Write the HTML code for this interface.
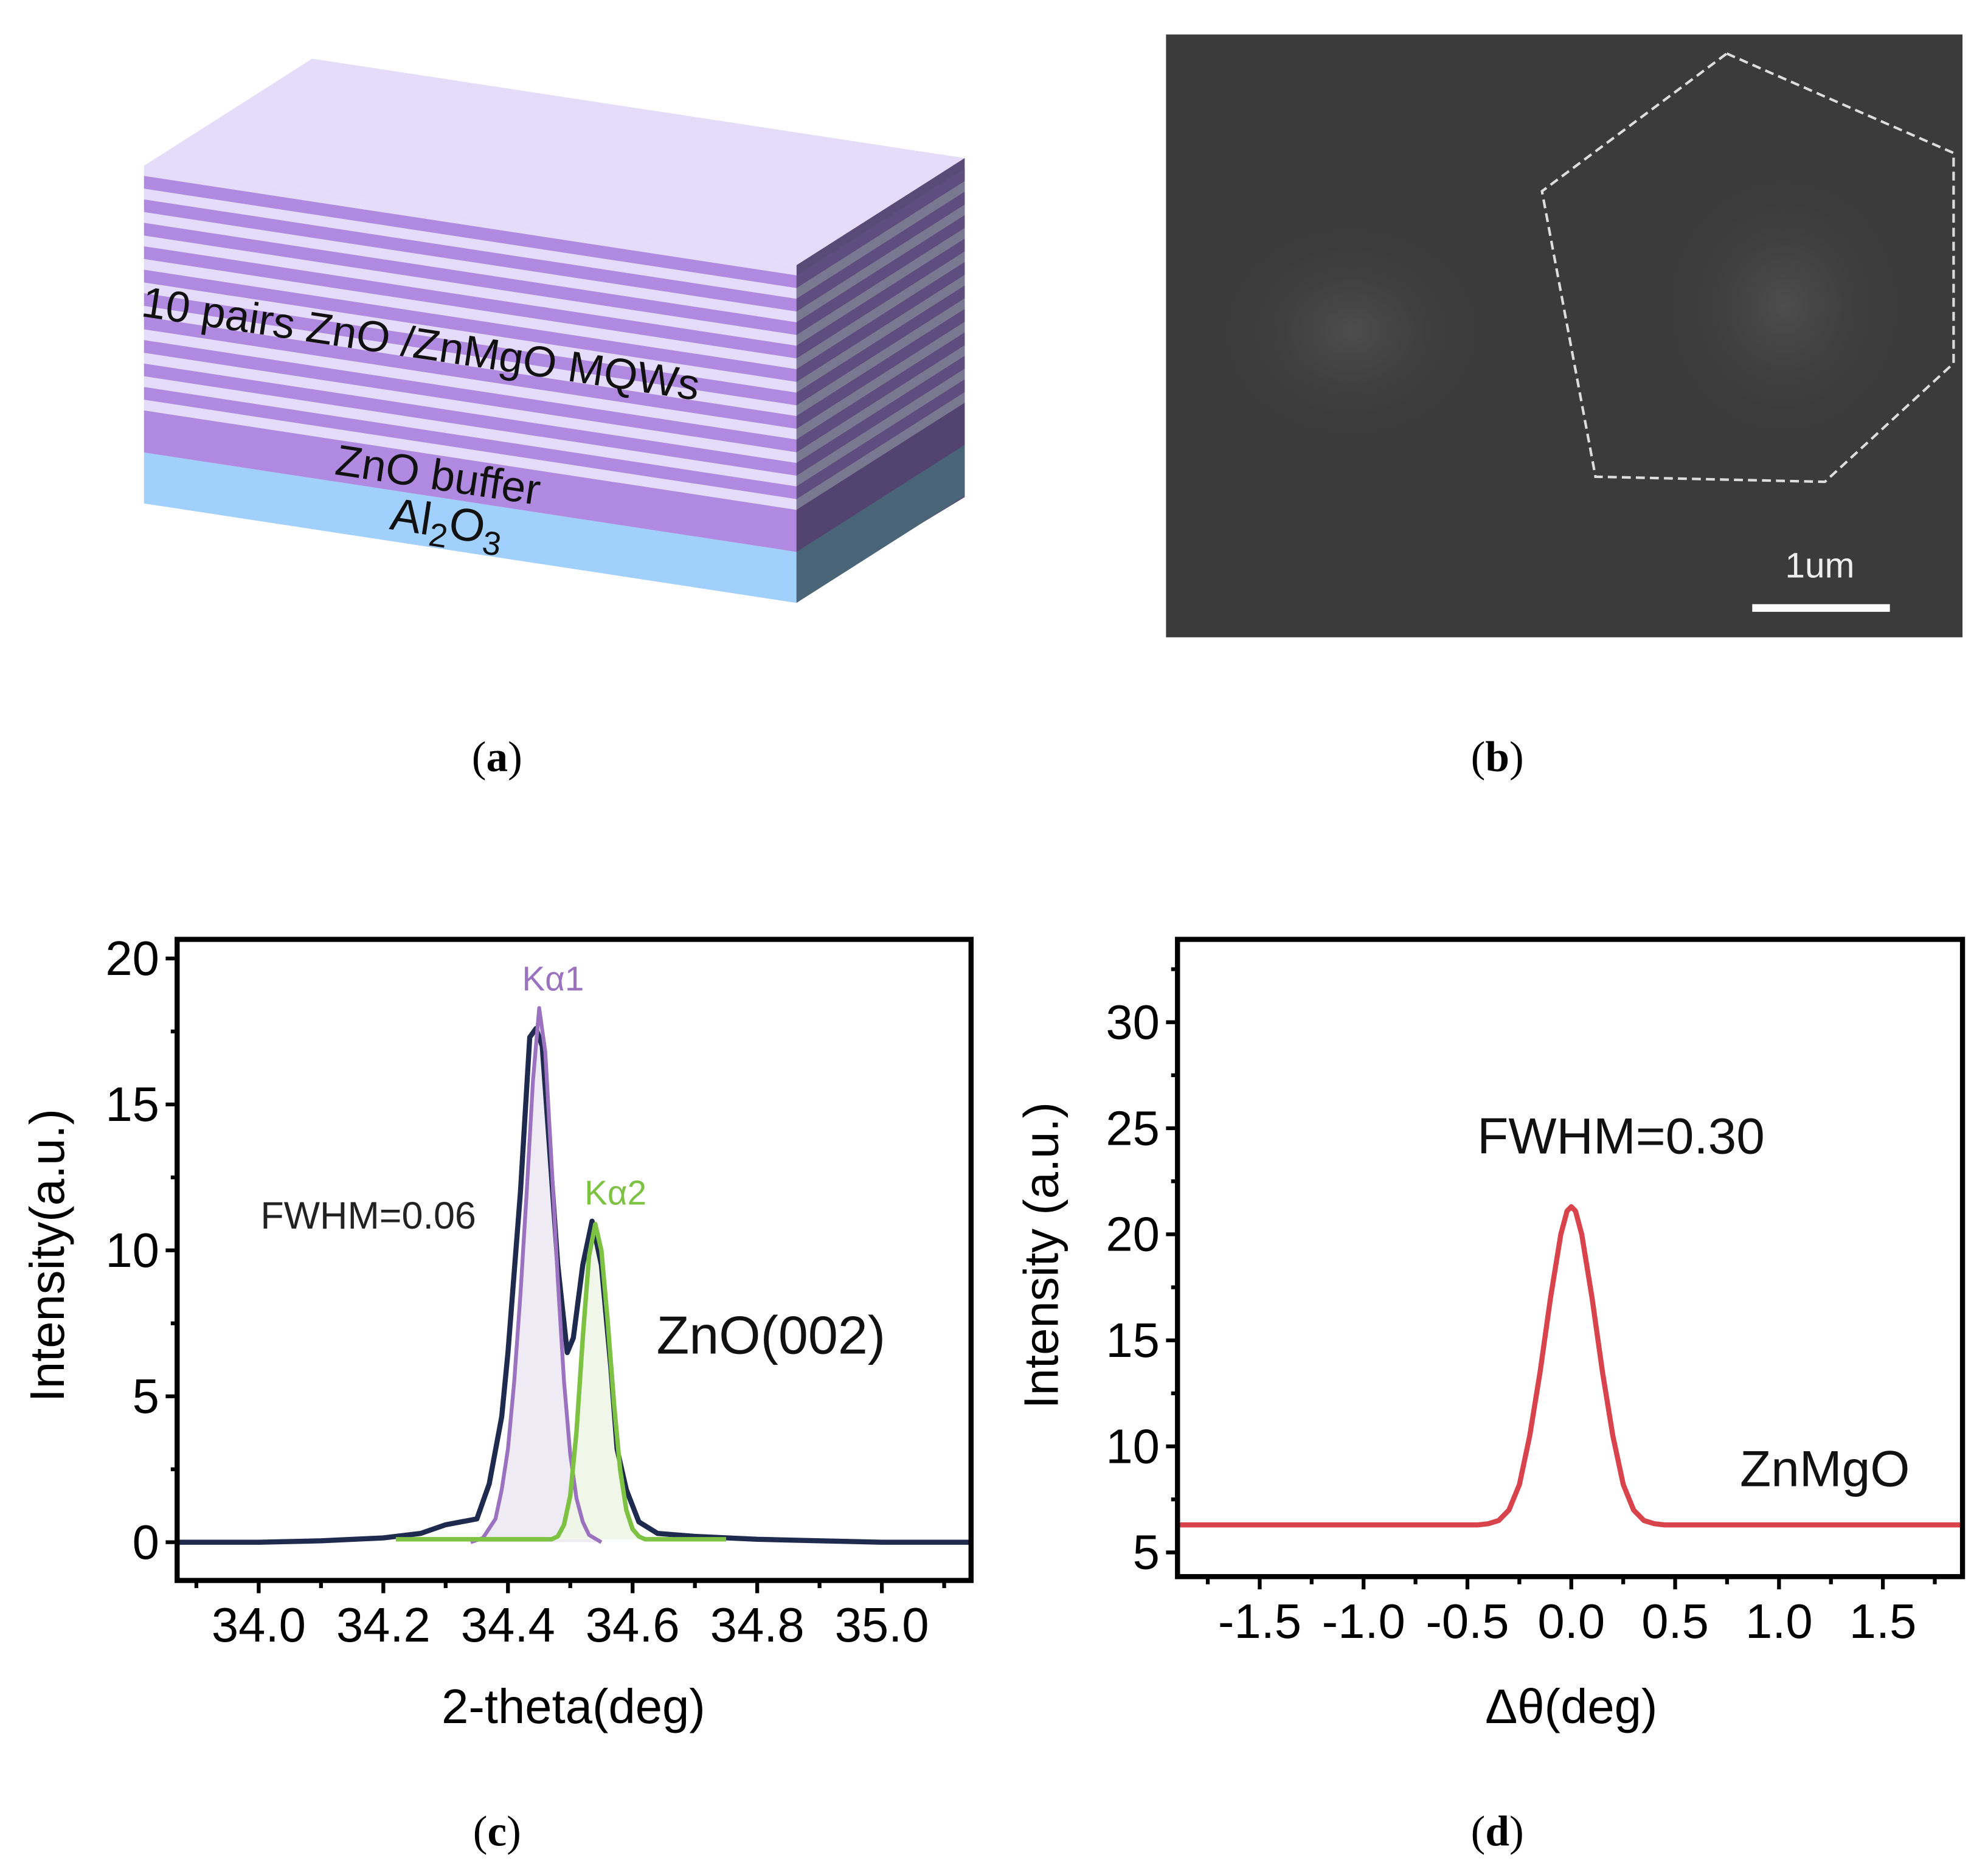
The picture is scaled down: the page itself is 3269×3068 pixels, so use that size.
<!DOCTYPE html>
<html><head><meta charset="utf-8"><style>
html,body{margin:0;padding:0;background:#fff}
svg{display:block}
text{font-family:"Liberation Sans",sans-serif}
.lab{font-family:"Liberation Serif",serif;font-size:34px}
</style></head><body>
<svg id="fig" width="3269" height="3068" viewBox="0 0 1560 1464" xmlns="http://www.w3.org/2000/svg">
<rect width="1560" height="1464" fill="#fff"/>
<g>
 <polygon points="113,130 245,46 757,124 625,208" fill="#e4dcf8"/>
 <polygon points="625,208 757,124 757,390 625,470" fill="#5a4a78"/>
 <polygon points="113,130 625,208 625,470 113,395" fill="#e4dcf8"/>
 <g id="stripes"></g>
 <text x="110" y="248" font-size="34" transform="rotate(8.6 110 248)" fill="#111">10 pairs ZnO /ZnMgO MQWs</text>
 <text x="262" y="372" font-size="34" transform="rotate(8.6 262 372)" fill="#111">ZnO buffer</text>
 <text x="305" y="415" font-size="36" font-family="Liberation Serif" transform="rotate(8.6 305 415)" fill="#111">Al<tspan font-size="26" dy="8">2</tspan><tspan dy="-8">O</tspan><tspan font-size="26" dy="8">3</tspan></text>
</g>
<text class="lab" x="390" y="605" text-anchor="middle">(<tspan font-weight="bold">a</tspan>)</text>
<g>
 <defs><radialGradient id="g1" cx="0.5" cy="0.5" r="0.5"><stop offset="0" stop-color="#5a5a5a"/><stop offset="1" stop-color="#3c3c3c" stop-opacity="0"/></radialGradient></defs>
 <rect x="915" y="27" width="625" height="473" fill="#3b3b3b"/>
 <ellipse cx="1060" cy="260" rx="110" ry="90" fill="url(#g1)" opacity="0.6"/>
 <ellipse cx="1400" cy="240" rx="100" ry="110" fill="url(#g1)" opacity="0.6"/>
 <polygon points="1355,42 1533,120 1533,285 1432,378 1252,374 1210,150" fill="none" stroke="#ddd" stroke-width="2" stroke-dasharray="7,4"/>
 <text x="1428" y="453" font-size="28" fill="#eee" text-anchor="middle">1um</text>
 <rect x="1375" y="474" width="108" height="6" fill="#fff"/>
</g>
<text class="lab" x="1175" y="605" text-anchor="middle">(<tspan font-weight="bold">b</tspan>)</text>
<g id="chartC"></g>
<text class="lab" x="390" y="1448" text-anchor="middle">(<tspan font-weight="bold">c</tspan>)</text>
<g id="chartD"></g>
<text class="lab" x="1175" y="1448" text-anchor="middle">(<tspan font-weight="bold">d</tspan>)</text>
</svg>
<script>
// ---- Chart c data ----
const cMeasX=[33.87,34.0,34.1,34.2,34.26,34.3,34.35,34.37,34.39,34.40,34.42,34.435,34.445,34.455,34.465,34.48,34.495,34.505,34.52,34.535,34.55,34.565,34.575,34.59,34.61,34.64,34.7,34.8,34.9,35.0,35.14];
const cMeasY=[0,0,0.05,0.15,0.3,0.6,0.8,2.0,4.3,6.5,12,17.3,17.6,17.0,14,9.5,6.5,7.0,9.5,11.0,9.5,6.0,3.2,1.8,0.7,0.3,0.2,0.1,0.05,0,0];
const cK1X=[34.34,34.36,34.38,34.39,34.40,34.41,34.42,34.43,34.44,34.45,34.46,34.47,34.48,34.49,34.50,34.51,34.52,34.53,34.55];
const cK1Y=[0,0.15,0.8,1.8,3.2,5.5,8.5,12,15.8,18.3,16.8,13,9,5.5,3,1.5,0.7,0.25,0];
const cK2X=[34.22,34.47,34.48,34.49,34.50,34.51,34.52,34.53,34.54,34.55,34.56,34.57,34.58,34.59,34.60,34.61,34.62,34.75];
const cK2Y=[0.1,0.1,0.2,0.6,1.6,3.8,7.0,9.8,10.9,10.0,7.6,4.8,2.5,1.1,0.45,0.2,0.1,0.1];
const cXTicks=[34.0,34.2,34.4,34.6,34.8,35.0];
const cXTickLabels=["34.0","34.2","34.4","34.6","34.8","35.0"];
const cYTicks=[0,5,10,15,20];
const cYTickLabels=["0","5","10","15","20"];
// ---- Chart d data ----
const dX=[-1.9,-0.45,-0.4,-0.35,-0.3,-0.25,-0.2,-0.15,-0.1,-0.05,-0.02,0,0.02,0.05,0.1,0.15,0.2,0.25,0.3,0.35,0.4,0.45,1.9];
const dY=[6.3,6.3,6.35,6.5,7.0,8.2,10.5,13.5,17,20,21.1,21.3,21.1,20,17,13.5,10.5,8.2,7.0,6.5,6.35,6.3,6.3];
const dXTicks=[-1.5,-1.0,-0.5,0.0,0.5,1.0,1.5];
const dXTickLabels=["-1.5","-1.0","-0.5","0.0","0.5","1.0","1.5"];
const dYTicks=[5,10,15,20,25,30];
const dYTickLabels=["5","10","15","20","25","30"];

const NS="http://www.w3.org/2000/svg";
function mk(parent,tag,attrs,txt){const e=document.createElementNS(NS,tag);for(const k in attrs)e.setAttribute(k,attrs[k]);if(txt!==undefined)e.textContent=txt;parent.appendChild(e);return e;}

(function(){
 const g=document.getElementById('stripes');
 function band(y0,y1,fill,side){
  mk(g,'polygon',{points:`113,${y0} 625,${y0+78} 625,${y1+78} 113,${y1}`,fill:fill});
  mk(g,'polygon',{points:`625,${y0+78} 757,${y0+78-84} 757,${y1+78-84} 625,${y1+78}`,fill:side});
 }
 for(let i=0;i<10;i++){const y=138+i*18.4;band(y,y+10,'#b08ae0','#5e4d7e');band(y+10,y+18.4,'#e4dcf8','#7a7890');}
 band(322,355,'#b08ae0','#534370');
 band(355,395,'#a2d0fc','#4a6478');
})();

function path(xs,ys,sx,sy){return xs.map((x,i)=>(i?'L':'M')+sx(x).toFixed(1)+','+sy(ys[i]).toFixed(1)).join('');}

function drawFrame(g,o,sx,sy,xt,xl,yt,yl,minorX,minorY,fs){
 for(let i=0;i<xt.length;i++){
  const t=mk(g,'line',{x1:sx(xt[i]),x2:sx(xt[i]),y1:o.y1,y2:o.y1+10,stroke:'#000','stroke-width':3});
  
  const l=mk(g,'text',{x:sx(xt[i]),y:o.y1+48,'font-size':fs,'text-anchor':'middle'},xl[i]);
  
 }
 minorX.forEach(v=>{const t=mk(g,'line',{x1:sx(v),x2:sx(v),y1:o.y1,y2:o.y1+6,stroke:'#000','stroke-width':3});});
 for(let i=0;i<yt.length;i++){
  const t=mk(g,'line',{x1:o.x0-9,x2:o.x0,y1:sy(yt[i]),y2:sy(yt[i]),stroke:'#000','stroke-width':3});
  
  const l=mk(g,'text',{x:o.x0-14,y:sy(yt[i])+13,'font-size':fs,'text-anchor':'end'},yl[i]);
  
 }
 minorY.forEach(v=>{const t=mk(g,'line',{x1:o.x0-5,x2:o.x0,y1:sy(v),y2:sy(v),stroke:'#000','stroke-width':3});});
 const r=mk(g,'rect',{x:o.x0,y:o.y0,width:o.x1-o.x0,height:o.y1-o.y0,fill:'none',stroke:'#000','stroke-width':4});
 
}

(function(){
 const g=document.getElementById('chartC');
 const sx=v=>203+(v-34.0)*489;
 const sy=v=>1210-v*22.9;
 const cp=mk(g,'clipPath',{id:'clipC'});mk(cp,'rect',{x:139,y:737,width:623,height:503});
 const inner=mk(g,'g',{'clip-path':'url(#clipC)'});
 const k1f=mk(inner,'path',{d:path(cK1X,cK1Y,sx,sy)+'Z',fill:'#efebf5',stroke:'none'});
 
 const k2f=mk(inner,'path',{d:path(cK2X,cK2Y,sx,sy)+'Z',fill:'#eef6e6',stroke:'none',opacity:0.9});
 
 const m=mk(inner,'path',{d:path(cMeasX,cMeasY,sx,sy),fill:'none',stroke:'#1e2a4e','stroke-width':4,'stroke-linejoin':'round'});
 
 const k1=mk(inner,'path',{d:path(cK1X,cK1Y,sx,sy),fill:'none',stroke:'#9b72c0','stroke-width':3,'stroke-linejoin':'round'});
 
 const k2=mk(inner,'path',{d:path(cK2X,cK2Y,sx,sy),fill:'none',stroke:'#7dc242','stroke-width':3.5,'stroke-linejoin':'round'});
 
 const minX=[33.9,34.1,34.3,34.5,34.7,34.9,35.1],minY=[2.5,7.5,12.5,17.5];
 drawFrame(g,{x0:139,x1:762,y0:737,y1:1240},sx,sy,cXTicks,cXTickLabels,cYTicks,cYTickLabels,minX,minY,38);
 const t=[["Kα1",434,777,27,'#9b72c0','k-alpha1-label'],["Kα2",483,945,27,'#7dc242','k-alpha2-label'],["FWHM=0.06",289,964,30,'#222','fwhm-label'],["ZnO(002)",605,1062,42,'#111','peak-label']];
 t.forEach(a=>{const e=mk(g,'text',{x:a[1],y:a[2],'font-size':a[3],fill:a[4],'text-anchor':'middle'},a[0]);});
 const xt=mk(g,'text',{x:450,y:1352,'font-size':38,'text-anchor':'middle'},'2-theta(deg)');
 const yt=mk(g,'text',{x:0,y:0,'font-size':38,'text-anchor':'middle',transform:'translate(50,985) rotate(-90)'},'Intensity(a.u.)');
})();

(function(){
 const g=document.getElementById('chartD');
 const sx=v=>1233+v*163;
 const sy=v=>802+(30-v)*16.64;
 const cp=mk(g,'clipPath',{id:'clipD'});mk(cp,'rect',{x:924,y:737,width:616,height:500});
 const c=mk(g,'path',{d:path(dX,dY,sx,sy),fill:'none',stroke:'#d9434b','stroke-width':4,'stroke-linejoin':'round','clip-path':'url(#clipD)'});
 
 const minX=[-1.75,-1.25,-0.75,-0.25,0.25,0.75,1.25,1.75],minY=[7.5,12.5,17.5,22.5,27.5,32.5];
 drawFrame(g,{x0:924,x1:1540,y0:737,y1:1237},sx,sy,dXTicks,dXTickLabels,dYTicks,dYTickLabels,minX,minY,38);
 const t=[["FWHM=0.30",1272,905,40,'fwhm-label'],["ZnMgO",1432,1166,40,'sample-label']];
 t.forEach(a=>{const e=mk(g,'text',{x:a[1],y:a[2],'font-size':a[3],fill:'#111','text-anchor':'middle'},a[0]);});
 const xt=mk(g,'text',{x:1233,y:1352,'font-size':38,'text-anchor':'middle'},'Δθ(deg)');
 const yt=mk(g,'text',{x:0,y:0,'font-size':38,'text-anchor':'middle',transform:'translate(830,985) rotate(-90)'},'Intensity (a.u.)');
})();
</script>
</body></html>
